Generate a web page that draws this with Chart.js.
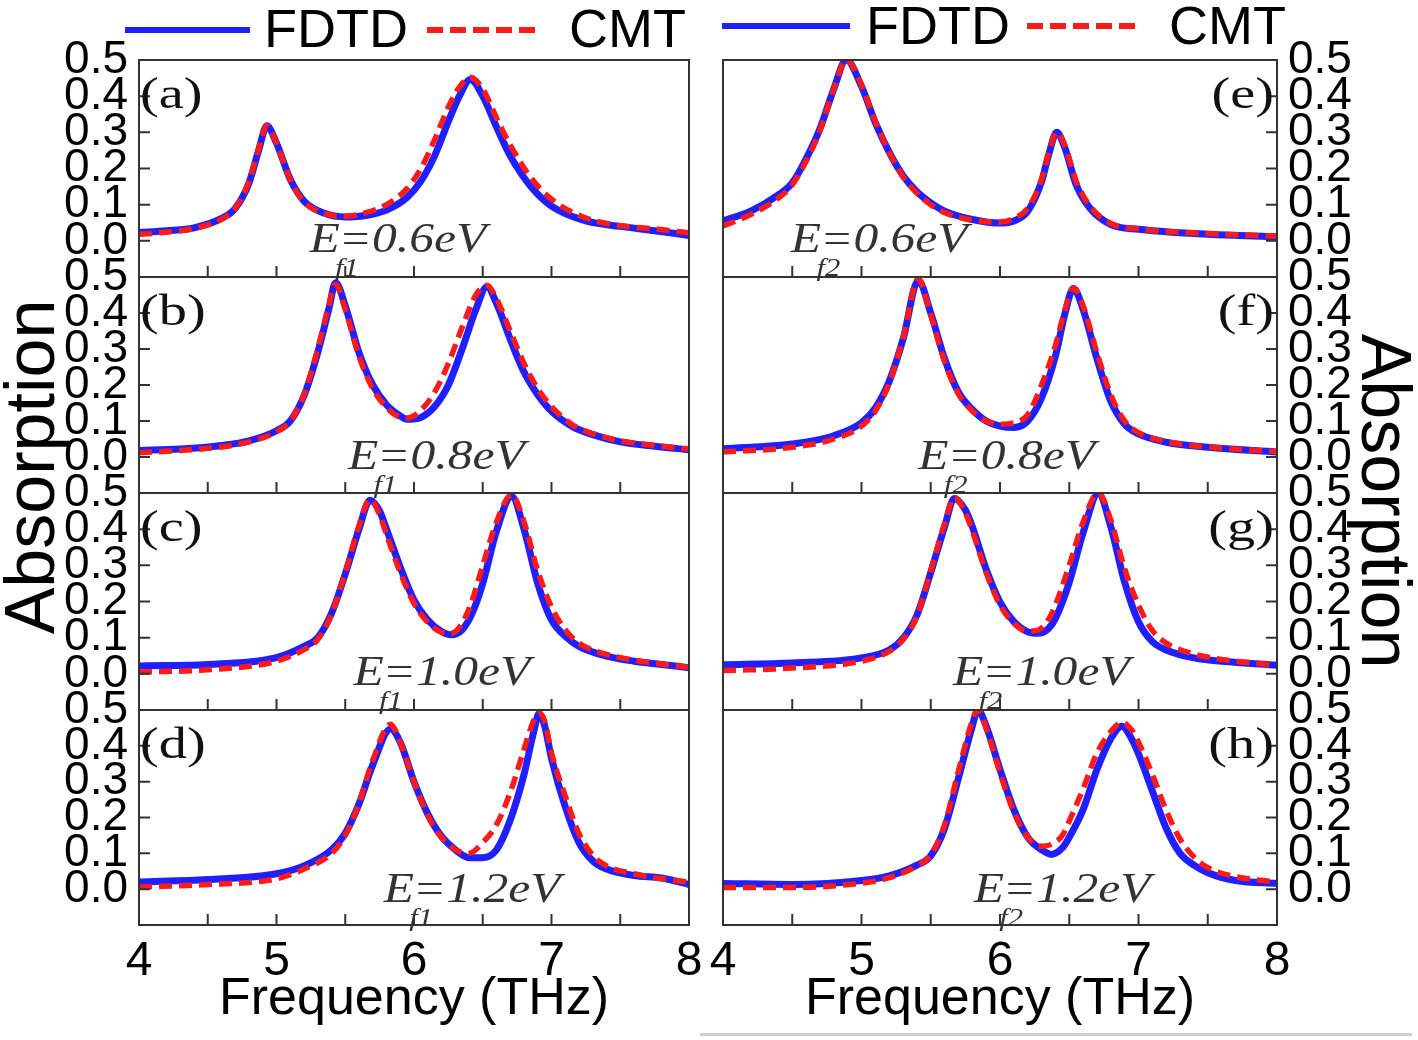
<!DOCTYPE html>
<html>
<head>
<meta charset="utf-8">
<script src="https://cdn.jsdelivr.net/npm/chart.js@4.4.1/dist/chart.umd.min.js"></script>
<style>
  body { margin: 0; background: #fff; }
  #wrap { position: relative; width: 1418px; height: 1040px; overflow: hidden; font-family: "Liberation Sans", Arial, sans-serif; color: #000; }
  #wrap canvas { position: absolute; left: 0; top: 0; }
  .ln { position: absolute; height: 6px; }
  .txt { position: absolute; font-size: 54px; line-height: 56px; white-space: nowrap; }
  .ytitle { position: absolute; width: 400px; height: 80px; line-height: 80px; font-size: 70px; text-align: center; white-space: nowrap; }
</style>
</head>
<body>
<div id="wrap">
  <!-- legends -->
  <div class="ln" style="left:125px;top:27px;width:125px;background:#1f1fff"></div>
  <div class="txt" style="left:264px;top:0px">FDTD</div>
  <div class="ln" style="left:427px;top:27px;width:108px;background:repeating-linear-gradient(90deg,#ff1a1a 0 16px,transparent 16px 23px)"></div>
  <div class="txt" style="left:569px;top:0px">CMT</div>

  <div class="ln" style="left:722px;top:23px;width:128px;background:#1f1fff"></div>
  <div class="txt" style="left:866px;top:-3px">FDTD</div>
  <div class="ln" style="left:1027px;top:23px;width:108px;background:repeating-linear-gradient(90deg,#ff1a1a 0 16px,transparent 16px 23px)"></div>
  <div class="txt" style="left:1169px;top:-3px">CMT</div>

  <div class="ytitle" style="left:-170px;top:427px;transform:rotate(-90deg)">Absorption</div>
  <div class="ytitle" style="left:1186px;top:461px;transform:rotate(90deg)">Absorption</div>

  <div style="position:absolute;left:700px;top:1033px;width:712px;height:3px;background:#cfcfcf"></div>

  <canvas id="c0" width="1418" height="1040"></canvas>
  <canvas id="c1" width="1418" height="1040"></canvas>
  <canvas id="c2" width="1418" height="1040"></canvas>
  <canvas id="c3" width="1418" height="1040"></canvas>
  <canvas id="c4" width="1418" height="1040"></canvas>
  <canvas id="c5" width="1418" height="1040"></canvas>
  <canvas id="c6" width="1418" height="1040"></canvas>
  <canvas id="c7" width="1418" height="1040"></canvas>
</div>

<script>
// ---- data ----
const xTickValues = [4, 5, 6, 7, 8];
const xMinorValues = [4.5, 5, 5.5, 6, 6.5, 7, 7.5];
const yTickValues = [0.0, 0.1, 0.2, 0.3, 0.4, 0.5];

// (a) Ef1 = 0.6 eV
const freqA = [4.0, 4.2, 4.4, 4.6, 4.7, 4.8, 4.87, 4.93, 5.0, 5.1, 5.2, 5.35, 5.5, 5.65, 5.8, 5.95, 6.05, 6.15, 6.25, 6.33, 6.41, 6.5, 6.6, 6.7, 6.85, 7.0, 7.25, 7.5, 7.75, 8.0];
const fdtdA = [0.023, 0.028, 0.036, 0.062, 0.09, 0.16, 0.25, 0.318, 0.27, 0.17, 0.11, 0.076, 0.066, 0.07, 0.085, 0.12, 0.165, 0.235, 0.33, 0.4, 0.446, 0.4, 0.315, 0.235, 0.15, 0.096, 0.055, 0.04, 0.028, 0.015];
const cmtA  = [0.018, 0.024, 0.034, 0.06, 0.09, 0.165, 0.255, 0.318, 0.27, 0.168, 0.108, 0.076, 0.068, 0.078, 0.1, 0.145, 0.2, 0.28, 0.37, 0.425, 0.452, 0.42, 0.34, 0.265, 0.175, 0.115, 0.063, 0.042, 0.033, 0.022];

// (b) Ef1 = 0.8 eV
const freqB = [4.0, 4.3, 4.6, 4.8, 5.0, 5.1, 5.2, 5.3, 5.38, 5.43, 5.5, 5.6, 5.7, 5.8, 5.9, 5.95, 6.05, 6.15, 6.25, 6.35, 6.45, 6.53, 6.6, 6.7, 6.8, 6.9, 7.0, 7.15, 7.3, 7.5, 7.75, 8.0];
const fdtdB = [0.018, 0.022, 0.032, 0.045, 0.073, 0.1, 0.17, 0.29, 0.41, 0.484, 0.42, 0.29, 0.2, 0.145, 0.114, 0.105, 0.11, 0.14, 0.2, 0.3, 0.41, 0.473, 0.427, 0.327, 0.236, 0.173, 0.127, 0.085, 0.062, 0.042, 0.03, 0.02];
const cmtB  = [0.012, 0.018, 0.028, 0.042, 0.07, 0.1, 0.172, 0.3, 0.42, 0.48, 0.41, 0.28, 0.19, 0.138, 0.11, 0.108, 0.13, 0.18, 0.26, 0.36, 0.45, 0.477, 0.44, 0.35, 0.26, 0.19, 0.14, 0.09, 0.065, 0.045, 0.032, 0.022];

// (c) Ef1 = 1.0 eV
const freqC = [4.0, 4.5, 5.0, 5.2, 5.3, 5.4, 5.5, 5.6, 5.68, 5.75, 5.8, 5.9, 6.0, 6.1, 6.2, 6.27, 6.35, 6.42, 6.5, 6.6, 6.71, 6.8, 6.9, 7.0, 7.1, 7.2, 7.4, 7.6, 7.8, 8.0];
const fdtdC = [0.022, 0.026, 0.045, 0.076, 0.1, 0.167, 0.276, 0.4, 0.48, 0.45, 0.4, 0.295, 0.204, 0.149, 0.117, 0.108, 0.122, 0.165, 0.25, 0.395, 0.49, 0.4, 0.25, 0.149, 0.104, 0.076, 0.049, 0.035, 0.026, 0.017];
const cmtC  = [0.005, 0.011, 0.035, 0.067, 0.095, 0.165, 0.28, 0.41, 0.482, 0.44, 0.385, 0.28, 0.195, 0.142, 0.115, 0.112, 0.14, 0.2, 0.3, 0.42, 0.495, 0.42, 0.285, 0.185, 0.122, 0.085, 0.054, 0.038, 0.027, 0.018];

// (d) Ef1 = 1.2 eV
const freqD = [4.0, 4.5, 5.0, 5.2, 5.4, 5.5, 5.6, 5.7, 5.83, 5.9, 6.0, 6.1, 6.2, 6.3, 6.4, 6.5, 6.6, 6.7, 6.8, 6.87, 6.91, 6.95, 7.0, 7.1, 7.2, 7.3, 7.4, 7.6, 7.8, 8.0];
const fdtdD = [0.02, 0.027, 0.043, 0.065, 0.11, 0.156, 0.238, 0.347, 0.447, 0.41, 0.3, 0.21, 0.147, 0.11, 0.088, 0.088, 0.11, 0.193, 0.32, 0.438, 0.49, 0.456, 0.365, 0.23, 0.13, 0.079, 0.056, 0.038, 0.031, 0.013];
const cmtD  = [0.006, 0.013, 0.029, 0.056, 0.1, 0.15, 0.24, 0.36, 0.46, 0.41, 0.3, 0.205, 0.145, 0.11, 0.1, 0.13, 0.18, 0.27, 0.39, 0.47, 0.49, 0.47, 0.38, 0.26, 0.155, 0.095, 0.065, 0.043, 0.029, 0.02];

// (e) Ef2 = 0.6 eV
const freqE = [4.0, 4.2, 4.4, 4.5, 4.6, 4.7, 4.8, 4.89, 5.0, 5.1, 5.2, 5.3, 5.4, 5.5, 5.6, 5.8, 6.0, 6.1, 6.2, 6.3, 6.35, 6.41, 6.47, 6.55, 6.65, 6.8, 7.0, 7.5, 8.0];
const fdtdE = [0.055, 0.082, 0.127, 0.16, 0.227, 0.31, 0.42, 0.5, 0.427, 0.327, 0.245, 0.18, 0.136, 0.105, 0.082, 0.059, 0.049, 0.055, 0.082, 0.164, 0.236, 0.3, 0.255, 0.155, 0.09, 0.045, 0.032, 0.018, 0.011];
const cmtE  = [0.041, 0.073, 0.118, 0.155, 0.22, 0.305, 0.42, 0.5, 0.43, 0.33, 0.245, 0.178, 0.132, 0.1, 0.078, 0.057, 0.052, 0.062, 0.09, 0.17, 0.24, 0.3, 0.262, 0.165, 0.096, 0.048, 0.033, 0.02, 0.013];

// (f) Ef2 = 0.8 eV
const freqF = [4.0, 4.5, 4.8, 5.0, 5.1, 5.2, 5.3, 5.41, 5.5, 5.6, 5.7, 5.8, 5.9, 6.0, 6.1, 6.2, 6.3, 6.4, 6.47, 6.53, 6.6, 6.7, 6.8, 6.9, 7.0, 7.2, 7.5, 8.0];
const fdtdF = [0.023, 0.036, 0.059, 0.095, 0.136, 0.21, 0.327, 0.49, 0.4, 0.273, 0.18, 0.132, 0.1, 0.086, 0.082, 0.1, 0.164, 0.28, 0.4, 0.468, 0.41, 0.273, 0.155, 0.091, 0.064, 0.041, 0.027, 0.014];
const cmtF  = [0.014, 0.027, 0.05, 0.086, 0.128, 0.205, 0.33, 0.495, 0.395, 0.265, 0.175, 0.128, 0.1, 0.091, 0.095, 0.118, 0.2, 0.31, 0.41, 0.47, 0.42, 0.29, 0.173, 0.1, 0.068, 0.043, 0.028, 0.015];

// (g) Ef2 = 1.0 eV
const freqG = [4.0, 4.5, 5.0, 5.2, 5.3, 5.4, 5.5, 5.6, 5.67, 5.75, 5.8, 5.9, 6.0, 6.1, 6.2, 6.27, 6.35, 6.4, 6.5, 6.6, 6.71, 6.8, 6.9, 7.0, 7.1, 7.2, 7.4, 7.6, 8.0];
const fdtdG = [0.025, 0.03, 0.044, 0.066, 0.098, 0.162, 0.28, 0.407, 0.485, 0.453, 0.407, 0.289, 0.198, 0.144, 0.116, 0.112, 0.125, 0.153, 0.253, 0.39, 0.498, 0.407, 0.253, 0.144, 0.089, 0.066, 0.044, 0.035, 0.024];
const cmtG  = [0.009, 0.016, 0.035, 0.062, 0.095, 0.16, 0.285, 0.415, 0.488, 0.445, 0.395, 0.28, 0.19, 0.14, 0.118, 0.12, 0.15, 0.19, 0.3, 0.42, 0.5, 0.425, 0.29, 0.19, 0.12, 0.085, 0.055, 0.04, 0.024];

// (h) Ef2 = 1.2 eV
const freqH = [4.0, 4.5, 5.0, 5.2, 5.4, 5.5, 5.6, 5.7, 5.8, 5.84, 5.9, 6.0, 6.1, 6.2, 6.3, 6.37, 6.45, 6.5, 6.6, 6.7, 6.8, 6.88, 6.95, 7.0, 7.1, 7.2, 7.3, 7.4, 7.5, 7.7, 8.0];
const fdtdH = [0.016, 0.013, 0.024, 0.037, 0.067, 0.093, 0.17, 0.31, 0.455, 0.5, 0.455, 0.334, 0.222, 0.145, 0.11, 0.097, 0.115, 0.145, 0.222, 0.334, 0.42, 0.455, 0.42, 0.378, 0.274, 0.17, 0.1, 0.067, 0.046, 0.024, 0.016];
const cmtH  = [0.005, 0.005, 0.017, 0.032, 0.065, 0.095, 0.18, 0.33, 0.47, 0.5, 0.45, 0.325, 0.215, 0.145, 0.12, 0.125, 0.15, 0.19, 0.28, 0.38, 0.44, 0.465, 0.445, 0.41, 0.32, 0.22, 0.14, 0.09, 0.06, 0.035, 0.02];

// panel texts
const panelTags = ['(a)', '(b)', '(c)', '(d)', '(e)', '(f)', '(g)', '(h)'];
const fermiLevels = ['0.6', '0.8', '1.0', '1.2', '0.6', '0.8', '1.0', '1.2'];

// ---- layout ----
const W = 1418, H = 1040;
const rowTops = [60, 277, 493, 710, 925];
const noteX = [5.24, 5.52, 5.56, 5.78, 4.49, 5.41, 5.66, 5.81];   // where "E_f" starts, in THz
const BLUE = '#1f1fff', RED = '#ff1a1a', FRAME = '#333';

const panels = [
  [freqA, fdtdA, cmtA], [freqB, fdtdB, cmtB], [freqC, fdtdC, cmtC], [freqD, fdtdD, cmtD],
  [freqE, fdtdE, cmtE], [freqF, fdtdF, cmtF], [freqG, fdtdG, cmtG], [freqH, fdtdH, cmtH]
];

function decor(idx) {
  const left = idx < 4;
  return {
    id: 'decor' + idx,
    afterDatasetsDraw(chart) {
      const { ctx, chartArea: a, scales } = chart;
      ctx.save();
      ctx.strokeStyle = FRAME;
      ctx.lineWidth = 2;
      ctx.strokeRect(a.left, a.top, a.right - a.left, a.bottom - a.top);
      ctx.beginPath();
      xMinorValues.forEach(v => {
        const x = scales.x.getPixelForValue(v);
        ctx.moveTo(x, a.bottom);
        ctx.lineTo(x, a.bottom - 11);
      });
      yTickValues.forEach(v => {
        const y = scales.y.getPixelForValue(v);
        if (left) { ctx.moveTo(a.left, y); ctx.lineTo(a.left + 11, y); }
        else { ctx.moveTo(a.right, y); ctx.lineTo(a.right - 11, y); }
      });
      ctx.stroke();

      // panel tag
      ctx.fillStyle = '#111';
      ctx.textBaseline = 'middle';
      ctx.font = '44px "Liberation Serif", "Times New Roman", serif';
      ctx.save();
      if (left) {
        ctx.translate(a.left + 1, a.top + 36);
        ctx.scale(1.28, 1);
        ctx.textAlign = 'left';
      } else {
        ctx.translate(a.right - 3, a.top + 36);
        ctx.scale(1.28, 1);
        ctx.textAlign = 'right';
      }
      ctx.fillText(panelTags[idx], 0, 0);
      ctx.restore();

      // E_f annotation
      const nx = scales.x.getPixelForValue(noteX[idx]);
      const ny = a.top + 192;
      ctx.save();
      ctx.translate(nx, ny);
      ctx.scale(1.18, 1);
      ctx.textBaseline = 'alphabetic';
      ctx.textAlign = 'left';
      ctx.fillStyle = '#333';
      ctx.font = 'italic 42px "Liberation Serif", "Times New Roman", serif';
      ctx.fillText('E', 0, 0);
      const ew = ctx.measureText('E').width;
      ctx.fillText('=' + fermiLevels[idx] + 'eV', ew - 1, 0);
      ctx.font = 'italic 26px "Liberation Serif", "Times New Roman", serif';
      ctx.fillText(left ? 'f1' : 'f2', ew - 4, 24);
      ctx.restore();

      ctx.restore();
    }
  };
}

function makeChart(idx) {
  const [freq, fdtd, cmt] = panels[idx];
  const left = idx < 4;
  const row = idx % 4;
  const bottomRow = row === 3;
  const tickFont = { family: '"Liberation Sans", Arial, sans-serif', size: 46 };

  new Chart(document.getElementById('c' + idx), {
    type: 'line',
    data: {
      datasets: [
        {
          label: 'CMT',
          data: freq.map((f, i) => ({ x: f, y: cmt[i] })),
          borderColor: RED,
          borderWidth: 5.5,
          borderDash: [13, 7],
          pointRadius: 0,
          cubicInterpolationMode: 'monotone',
          order: 0
        },
        {
          label: 'FDTD',
          data: freq.map((f, i) => ({ x: f, y: fdtd[i] })),
          borderColor: BLUE,
          borderWidth: 7,
          pointRadius: 0,
          cubicInterpolationMode: 'monotone',
          order: 1
        }
      ]
    },
    options: {
      responsive: false,
      animation: false,
      events: [],
      devicePixelRatio: 1,
      layout: {
        padding: {
          left: left ? 0 : 723,
          right: left ? W - 689 : 0,
          top: rowTops[row],
          bottom: bottomRow ? 0 : H - rowTops[row + 1]
        }
      },
      plugins: { legend: { display: false }, tooltip: { enabled: false } },
      scales: {
        x: {
          type: 'linear',
          min: 4,
          max: 8,
          display: bottomRow,
          afterBuildTicks: s => { s.ticks = xTickValues.map(v => ({ value: v })); },
          afterFit: s => { if (bottomRow) s.height = H - rowTops[4]; },
          grid: { display: false, drawTicks: false },
          border: { display: false },
          ticks: { autoSkip: false, maxRotation: 0, padding: 8, color: '#000', font: { ...tickFont, size: 48 }, callback: v => String(v) },
          title: {
            display: true,
            text: 'Frequency (THz)',
            color: '#000',
            font: { family: '"Liberation Sans", Arial, sans-serif', size: 52 },
            padding: { top: 0, bottom: 9 }
          }
        },
        y: {
          position: left ? 'left' : 'right',
          min: -0.1,
          max: 0.5,
          afterBuildTicks: s => { s.ticks = yTickValues.map(v => ({ value: v })); },
          afterFit: s => { s.width = left ? 139 : W - 1277; },
          grid: { display: false, drawTicks: false },
          border: { display: false },
          ticks: { autoSkip: false, padding: 11, color: '#000', font: tickFont, callback: v => v.toFixed(1) }
        }
      }
    },
    plugins: [decor(idx)]
  });
}

for (let i = 0; i < 8; i++) makeChart(i);
</script>
</body>
</html>
